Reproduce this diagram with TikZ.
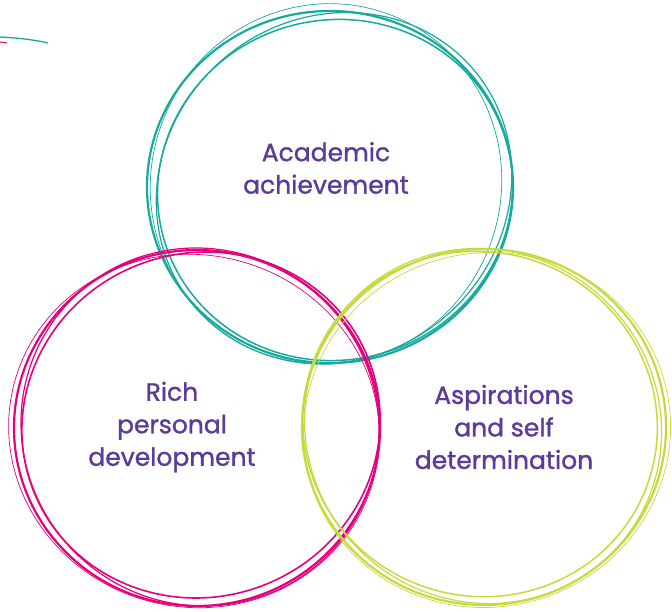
\documentclass[tikz,border=0pt]{standalone}
\usepackage{fontspec}
\setmainfont{Poppins}[FakeBold=1.2]
\definecolor{cteal}{HTML}{17AA9C}
\definecolor{cmag}{HTML}{E5007D}
\definecolor{clime}{HTML}{C6DA3E}
\definecolor{cpurp}{HTML}{5B3A9A}
\begin{document}
\begin{tikzpicture}[x=1pt,y=1pt,
  lbl/.style={text=cpurp,align=center,font=\fontsize{25}{32.5}\selectfont}]
\useasboundingbox (0,0) rectangle (672,611);
% teal
\begin{scope}[cteal]
\draw[line width=2.2] (330,424) ellipse [x radius=183, y radius=176, rotate=0];
\draw[line width=1.5] (335,421) ellipse [x radius=178, y radius=170, rotate=15];
\draw[line width=0.7] (326,427) ellipse [x radius=175, y radius=181, rotate=-20];
\draw[line width=1.2] (334,423) ellipse [x radius=183, y radius=170, rotate=40];
\draw[line width=1.3] (0,574) .. controls (20,573) and (35,571) .. (48,568);
\end{scope}
\draw[cmag,line width=1] (0,569) -- (7,568);
% magenta
\begin{scope}[cmag]
\draw[line width=2.2] (197,183) ellipse [x radius=183, y radius=178, rotate=0];
\draw[line width=1.6] (201,186) ellipse [x radius=180, y radius=172, rotate=20];
\draw[line width=0.7] (194,180) ellipse [x radius=186, y radius=176, rotate=-15];
\draw[line width=1.2] (200,184) ellipse [x radius=177, y radius=181, rotate=45];
\end{scope}
% lime
\begin{scope}[clime]
\draw[line width=2.2] (484,184) ellipse [x radius=182, y radius=178, rotate=0];
\draw[line width=1.5] (480,187) ellipse [x radius=178, y radius=172, rotate=-20];
\draw[line width=0.7] (487,181) ellipse [x radius=184, y radius=177, rotate=15];
\draw[line width=1.2] (483,185) ellipse [x radius=175, y radius=181, rotate=50];
\end{scope}
\node[lbl] (acad) at (326,443) {Academic\\achievement};
\node[lbl] (rich) at (172,184) {Rich\\personal\\development};
\node[lbl] (asp) at (504,184) {Aspirations\\and self\\determination};
\end{tikzpicture}
\end{document}
